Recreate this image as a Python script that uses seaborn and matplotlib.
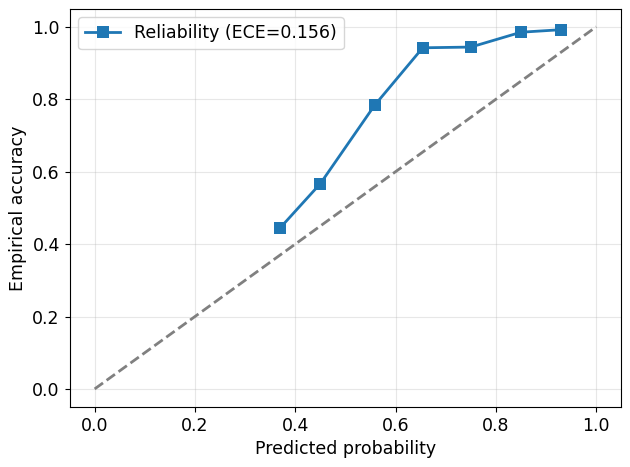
import numpy as np
import pandas as pd
import matplotlib
matplotlib.use("Agg")
import matplotlib.pyplot as plt
import seaborn as sns

# 신뢰도 곡선 데이터
pred_prob = [0.37, 0.45, 0.558, 0.654, 0.75, 0.85, 0.93]
emp_acc = [0.445, 0.567, 0.783, 0.942, 0.944, 0.985, 0.992]
ece = 0.156
diag = [0.0, 1.0]

plt.rcParams["font.size"] = 12.5

df = pd.DataFrame({"pred": pred_prob, "acc": emp_acc})

fig, ax = plt.subplots(figsize=(6.3, 4.67), dpi=100)
sns.lineplot(data=df, x="pred", y="acc", marker="s", markersize=9,
             markeredgewidth=0, color="#1f77b4", linewidth=2,
             label=f"Reliability (ECE={ece:.3f})", ax=ax)
ax.plot(diag, diag, linestyle="--", color="gray", linewidth=2)

ax.set_xlabel("Predicted probability")
ax.set_ylabel("Empirical accuracy")
ax.grid(True, alpha=0.3)
ax.legend(loc="upper left")
fig.tight_layout(pad=0.5)
fig.savefig("out.png")
